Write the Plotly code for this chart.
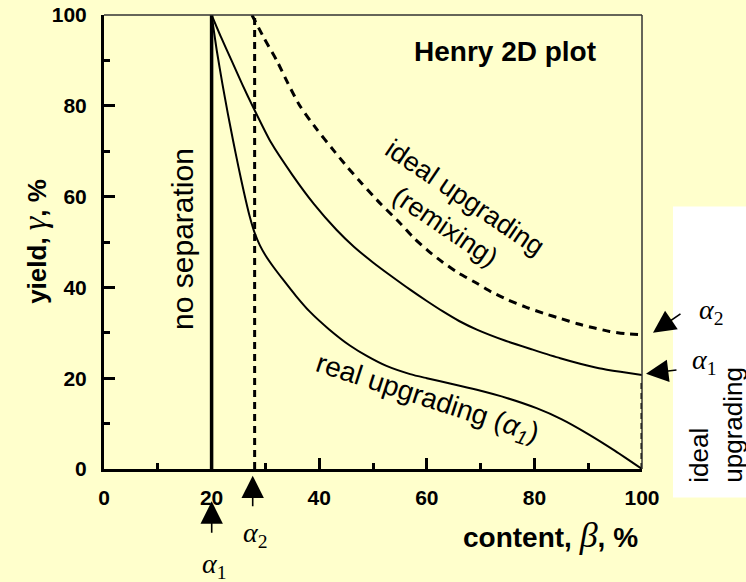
import plotly.graph_objects as go

# ---------------- data ----------------
x_ticks = [0, 20, 40, 60, 80, 100]
y_ticks = [0, 20, 40, 60, 80, 100]

alpha1 = 20
alpha2 = 28

no_sep_x = [alpha1, alpha1]
no_sep_y = [0, 100]

alpha2_line_x = [alpha2, alpha2]
alpha2_line_y = [0, 100]

ideal_up_x = [100, 100]
ideal_up_y = [0, 19]

# ideal upgrading (remixing) for alpha1 (solid upper curve)
remix1_x = [20, 21.8, 23.7, 25.7, 27.8, 31, 35, 39, 43.2, 46.5, 50, 53.5, 56.9, 60, 63, 66, 69.3, 74.5, 79.7, 84.8, 88.5, 92, 96, 100]
remix1_y = [100, 95, 90, 84.7, 79.5, 72.0, 64.8, 58.4, 52.7, 48.9, 45.5, 42.4, 39.5, 37.0, 34.7, 32.6, 30.7, 28.3, 26.3, 24.4, 23.2, 22.2, 21.4, 20.7]

# ideal upgrading (remixing) for alpha2 (dashed curve)
remix2_x = [27.5, 29.8, 32.1, 34.2, 36.4, 39.5, 42.6, 45.3, 48, 51.5, 55, 57.5, 60.2, 63, 66, 69.3, 72, 75, 78.3, 81.7, 85, 88, 91, 94, 97, 100]
remix2_y = [100, 94.8, 90, 84.9, 80, 74.9, 70.3, 66.4, 62.8, 58.3, 54.2, 51.0, 48.1, 45.5, 43.1, 40.9, 39.0, 37.3, 35.7, 34.3, 33.1, 32.0, 31.1, 30.3, 29.8, 29.6]

# real upgrading (alpha1)
real_x = [20, 21, 22, 23, 24, 25, 26, 27, 28, 29, 30, 31.5, 33.3, 35.7, 38.3, 41.8, 45.7, 49, 52.5, 56.9, 60, 64.5, 69.3, 75, 80.4, 85, 90, 95, 100]
real_y = [100, 91.9, 84.9, 78.4, 72.3, 66.5, 61.0, 56.0, 52.0, 49.2, 47.1, 44.5, 41.7, 38.1, 34.6, 30.8, 27.2, 24.8, 22.7, 20.9, 20.0, 18.8, 17.45, 15.6, 13.4, 11.0, 7.7, 4.0, 0]

BG = "#FFFFCC"
SANS = "Arial, Liberation Sans, sans-serif"
SERIF = "Times New Roman, Liberation Serif, serif"

fig = go.Figure()

fig.add_trace(go.Scatter(x=no_sep_x, y=no_sep_y, mode="lines",
                         line=dict(color="black", width=3.5)))
fig.add_trace(go.Scatter(x=alpha2_line_x, y=alpha2_line_y, mode="lines",
                         line=dict(color="black", width=3, dash="7px,5px")))
fig.add_trace(go.Scatter(x=ideal_up_x, y=ideal_up_y, mode="lines",
                         line=dict(color="black", width=3, dash="6px,4px")))
fig.add_trace(go.Scatter(x=remix1_x, y=remix1_y, mode="lines",
                         line=dict(color="black", width=2, shape="spline", smoothing=0.6)))
fig.add_trace(go.Scatter(x=remix2_x, y=remix2_y, mode="lines",
                         line=dict(color="black", width=3, dash="8px,6px", shape="spline", smoothing=0.6)))
fig.add_trace(go.Scatter(x=real_x, y=real_y, mode="lines",
                         line=dict(color="black", width=2, shape="spline", smoothing=0.7)))

axis_common = dict(
    range=[0, 100], showgrid=False, zeroline=False, automargin=False,
    showline=True, linecolor="black", linewidth=3,
    ticks="inside", ticklen=11, tickwidth=3, tickcolor="black",
    minor=dict(dtick=10, ticks="inside", ticklen=6, tickwidth=2.5, tickcolor="black"),
    tickfont=dict(family=SANS, size=21, color="black", weight=700),
    fixedrange=True,
)
fig.update_xaxes(tickvals=x_ticks, ticklabelstandoff=8, **axis_common)
fig.update_yaxes(tickvals=y_ticks, ticklabelstandoff=10, **axis_common)

shapes = [
    # thin top and right border
    dict(type="line", xref="paper", yref="paper", x0=0, x1=1, y0=1, y1=1,
         line=dict(color="#333333", width=1.5)),
    dict(type="line", xref="paper", yref="paper", x0=1, x1=1, y0=0, y1=1,
         line=dict(color="#333333", width=1.5)),
    # white box at the right
    dict(type="rect", xref="paper", yref="paper", x0=1.0576, x1=1.4, y0=-0.063, y1=0.578,
         fillcolor="white", line=dict(width=0), layer="below"),
]

def txt(text, x, y, size, family=SANS, angle=0, align="center", xref="x", yref="y", **kw):
    return dict(text=text, x=x, y=y, xref=xref, yref=yref, showarrow=False,
                font=dict(family=family, size=size, color="black"),
                textangle=angle, align=align, xanchor="center", yanchor="middle", **kw)

def ptxt(text, x, y, size, **kw):
    return txt(text, x, y, size, xref="paper", yref="paper", **kw)

def arrow(x, y, ax, ay):
    return dict(text="", x=x, y=y, xref="paper", yref="paper", ax=ax, ay=ay,
                showarrow=True, arrowhead=2, arrowsize=2.8, arrowwidth=1.6,
                arrowcolor="black", standoff=0)

annotations = [
    txt("<b>Henry 2D plot</b>", 74.5, 91.9, 28),
    txt("no separation", 14.7, 50.7, 30, angle=-90),
    txt("ideal upgrading<br>(remixing)", 65.4, 56.6, 27, angle=34),
    txt("real upgrading (<i>α</i><sub><i>1</i></sub>)", 60, 15.3, 28, angle=18),
    ptxt("ideal<br>upgrading", 1.1375, 0.0976, 26, angle=-90, align="left"),
    # axis titles
    ptxt("<b>content, </b><span style='font-family:Times New Roman, Liberation Serif, serif;font-size:36px'><i>β</i></span><b>, %</b>",
         0.829, -0.1446, 28),
    ptxt("<b>yield, </b><span style='font-family:Times New Roman, Liberation Serif, serif;font-size:34px'><i>γ</i></span><b>, %</b>",
         -0.1283, 0.5025, 26, angle=-90),
    # alpha labels
    ptxt("<i>α</i><sub>1</sub>", 0.2063, -0.2120, 28, family=SERIF),
    ptxt("<i>α</i><sub>2</sub>", 0.2807, -0.1446, 28, family=SERIF),
    ptxt("<i>α</i><sub>2</sub>", 1.1283, 0.3463, 28, family=SERIF),
    ptxt("<i>α</i><sub>1</sub>", 1.1171, 0.2362, 28, family=SERIF),
    # arrows
    arrow(0.2002, -0.0713, 0, 33),
    arrow(0.2764, -0.0147, 0, 32),
    arrow(1.0204, 0.3000, 29, -20),
    arrow(1.0074, 0.2098, 32, -4),
]

fig.update_layout(
    width=746, height=582,
    margin=dict(l=104, r=104, t=15, b=113),
    paper_bgcolor=BG, plot_bgcolor=BG,
    showlegend=False,
    shapes=shapes,
    annotations=annotations,
)

fig.write_html("out.html", config={"displayModeBar": False},
               post_script="document.body.style.margin='0';")
